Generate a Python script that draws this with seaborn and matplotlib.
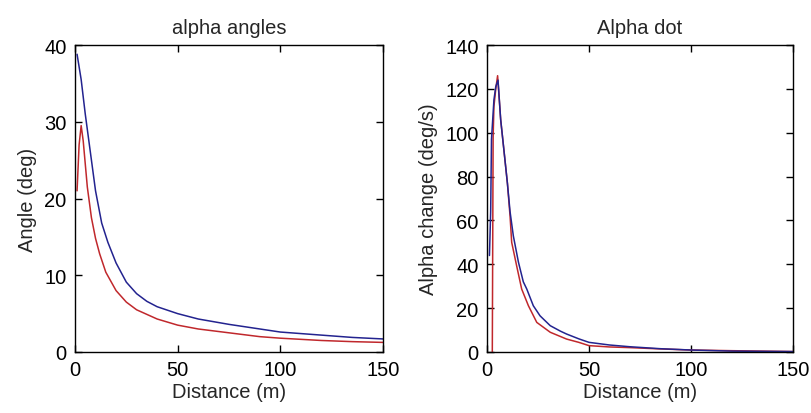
import matplotlib
matplotlib.use("Agg")
import matplotlib.pyplot as plt
import seaborn as sns
import pandas as pd

# Alpha angle vs distance (deg)
angle_dist_blue = [1, 3, 5, 7, 10, 13, 16, 20, 25, 30, 35, 40, 50, 60, 75, 90, 100, 120, 135, 150]
angle_blue = [38.8, 35.5, 31.0, 27.0, 21.0, 16.8, 14.3, 11.6, 9.1, 7.6, 6.6, 5.9, 5.0, 4.3, 3.6, 3.0, 2.6, 2.2, 1.9, 1.7]

angle_dist_red = [1, 2, 3, 4, 6, 8, 10, 12, 15, 20, 25, 30, 35, 40, 50, 60, 75, 90, 100, 120, 135, 150]
angle_red = [21.0, 27.0, 29.5, 27.5, 21.5, 17.5, 14.8, 12.8, 10.4, 8.0, 6.5, 5.5, 4.9, 4.3, 3.5, 3.0, 2.5, 2.0, 1.8, 1.5, 1.35, 1.25]

# Alpha rate of change vs distance (deg/s)
rate_dist_blue = [1.2, 1.8, 2.2, 3.4, 4.3, 5.4, 6.7, 8.3, 10.0, 11.3, 12.9, 15.4, 17.8, 19.5, 22.7, 26, 31, 36, 39, 45, 50, 60, 70, 85, 100, 120, 150]
rate_blue = [44, 64, 97, 115, 121, 124, 106, 92, 77, 64, 53, 41, 32, 28.7, 21.1, 16.5, 12, 9.5, 8.2, 6.0, 4.4, 3.2, 2.4, 1.5, 0.9, 0.4, 0.2]

rate_dist_red = [2.6, 3.0, 3.4, 4.3, 5.2, 6.7, 8.3, 10.0, 11.3, 12.1, 14.6, 17.0, 20.3, 24.4, 31, 39, 45, 50, 60, 70, 85, 100, 120, 150]
rate_red = [0, 98, 112, 120, 126, 106, 92, 77, 62, 50, 39, 28.7, 21.1, 13.5, 9.0, 5.9, 4.4, 2.9, 2.3, 2.0, 1.4, 0.9, 0.6, 0.2]

BLUE = "#23238f"
RED = "#c0282c"

sns.set_theme(style="white")
plt.rcParams["font.family"] = ["Liberation Sans", "DejaVu Sans"]
plt.rcParams["font.size"] = 14.5

fig = plt.figure(figsize=(8.11, 4.14), dpi=100)
ax1 = fig.add_axes([75 / 811, 61 / 414, 308 / 811, 307 / 414])
ax2 = fig.add_axes([487 / 811, 61 / 414, 306 / 811, 307 / 414])


def line(ax, xs, ys, color):
    df = pd.DataFrame({"d": xs, "v": ys})
    sns.lineplot(data=df, x="d", y="v", ax=ax, color=color, lw=1.1, sort=False, estimator=None)


# left panel: blue first, red on top
line(ax1, angle_dist_blue, angle_blue, BLUE)
line(ax1, angle_dist_red, angle_red, RED)
# right panel: red first, blue on top
line(ax2, rate_dist_red, rate_red, RED)
line(ax2, rate_dist_blue, rate_blue, BLUE)

ax1.set_xlim(0, 150)
ax1.set_ylim(0, 40)
ax1.set_xticks([0, 50, 100, 150])
ax1.set_yticks([0, 10, 20, 30, 40])
ax1.set_title("alpha angles", fontsize=14.5, pad=9)
ax1.set_xlabel("Distance (m)", fontsize=14.5, labelpad=2)
ax1.set_ylabel("Angle (deg)", fontsize=14.5, labelpad=5)

ax2.set_xlim(0, 150)
ax2.set_ylim(0, 140)
ax2.set_xticks([0, 50, 100, 150])
ax2.set_yticks(range(0, 141, 20))
ax2.set_title("Alpha dot", fontsize=14.5, pad=9)
ax2.set_xlabel("Distance (m)", fontsize=14.5, labelpad=2)
ax2.set_ylabel("Alpha change (deg/s)", fontsize=14.5, labelpad=5)

for ax in (ax1, ax2):
    ax.tick_params(direction="in", length=5, width=1, colors="black",
                   top=True, right=True, bottom=True, left=True,
                   labelsize=14.5, pad=6)
    for s in ax.spines.values():
        s.set_color("black")
        s.set_linewidth(1.0)
        s.set_visible(True)
    ax.grid(False)

fig.savefig("out.png", dpi=100, facecolor="white")
